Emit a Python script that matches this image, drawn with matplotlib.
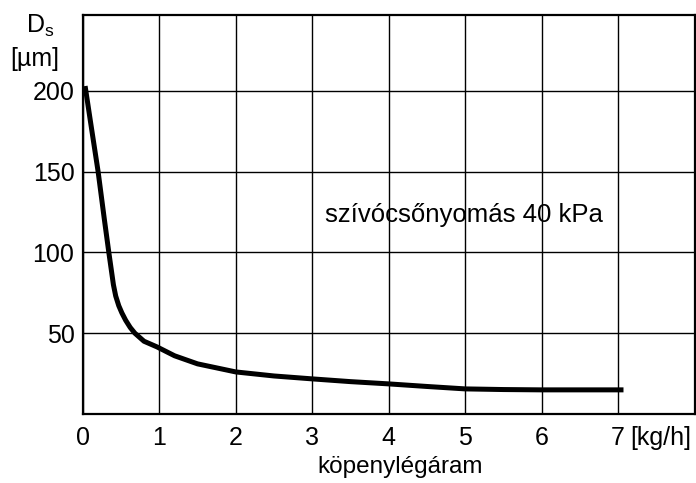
import numpy as np
import matplotlib
matplotlib.use("Agg")
import matplotlib.pyplot as plt

plt.rcParams['font.family'] = ['Liberation Sans', 'DejaVu Sans']

# curve
air_flow = [0.03, 0.1, 0.2, 0.28, 0.34, 0.37, 0.40, 0.43, 0.47, 0.51, 0.56, 0.62,
            0.68, 0.8, 0.97, 1.2, 1.5, 2.0, 2.5, 3.0, 3.5, 4.0, 4.5, 5.0, 5.5,
            6.0, 6.5, 7.07]
d_s = [203, 181, 150, 121, 100, 90, 80, 73, 67, 62.6, 58, 53.5,
       50, 45, 41.5, 36, 31, 26, 23.5, 21.7, 20, 18.6, 17, 15.5, 15.1,
       14.9, 14.9, 14.9]

x_ticks = [0, 1, 2, 3, 4, 5, 6, 7]
y_ticks = [50, 100, 150, 200]

fig = plt.figure(figsize=(6.96, 4.83), dpi=100)
ax = fig.add_axes([0.119, 0.143, 0.879, 0.826])

ax.plot(air_flow, d_s, color='black', lw=3.6, solid_capstyle='butt',
        solid_joinstyle='round', zorder=3)

ax.set_xlim(0, 8)
ax.set_ylim(0, 247)
ax.set_xticks(x_ticks)
ax.set_yticks(y_ticks)
ax.set_xticklabels([str(t) for t in x_ticks])
ax.set_yticklabels([str(t) for t in y_ticks])
ax.tick_params(length=0, labelsize=18, pad=9)
ax.tick_params(axis='y', pad=6)
ax.grid(True, color='black', lw=1.0)
for s in ax.spines.values():
    s.set_linewidth(1.6)

ax.text(4.98, 123, 'szívócsőnyomás 40 kPa', fontsize=18.5, ha='center', va='center')
ax.text(7.16, -15, '[kg/h]', fontsize=18, ha='left', va='center', clip_on=False)
ax.text(4.15, -33, 'köpenylégáram', fontsize=17.5, ha='center', va='center', clip_on=False)

fig.text(40 / 696, 1 - 26 / 483, r'D$_\mathregular{s}$', fontsize=18, ha='center', va='center')
fig.text(35 / 696, 1 - 59 / 483, '[µm]', fontsize=18, ha='center', va='center')

fig.savefig('out.png', dpi=100)
